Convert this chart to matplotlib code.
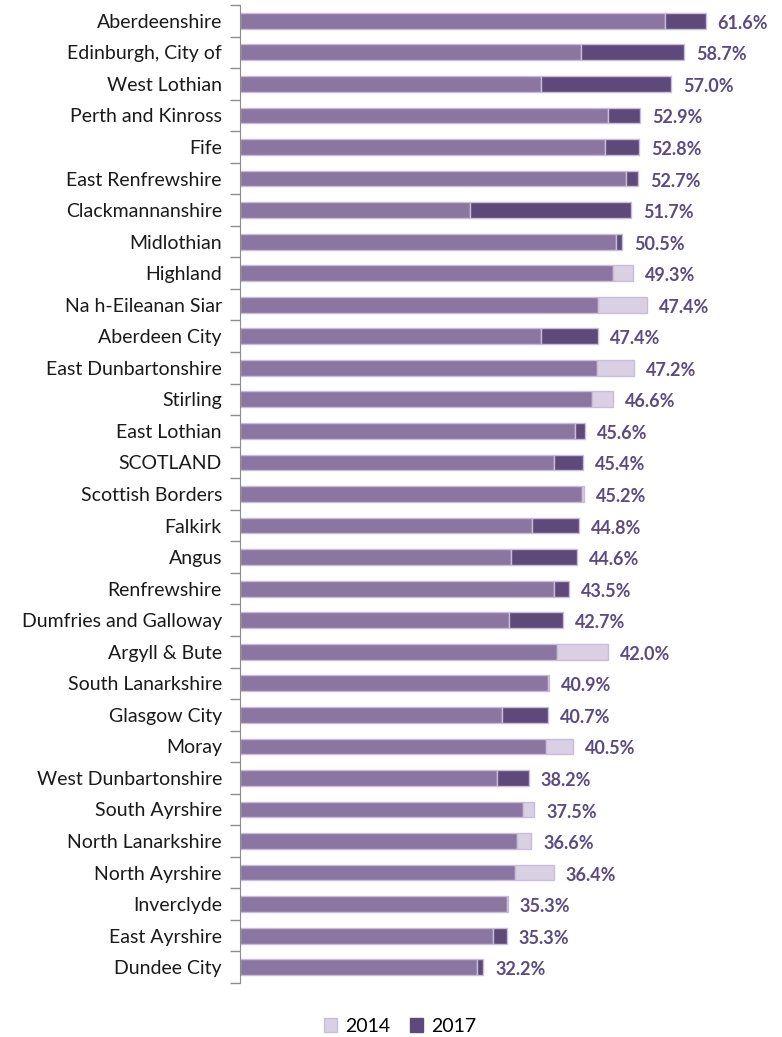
import matplotlib.pyplot as plt
import numpy as np
from matplotlib.patches import Patch

# council areas, top to bottom
areas = ['Aberdeenshire', 'Edinburgh, City of', 'West Lothian', 'Perth and Kinross', 'Fife',
         'East Renfrewshire', 'Clackmannanshire', 'Midlothian', 'Highland', 'Na h-Eileanan Siar',
         'Aberdeen City', 'East Dunbartonshire', 'Stirling', 'East Lothian', 'SCOTLAND',
         'Scottish Borders', 'Falkirk', 'Angus', 'Renfrewshire', 'Dumfries and Galloway',
         'Argyll & Bute', 'South Lanarkshire', 'Glasgow City', 'Moray', 'West Dunbartonshire',
         'South Ayrshire', 'North Lanarkshire', 'North Ayrshire', 'Inverclyde', 'East Ayrshire',
         'Dundee City']
pct_2014 = [56.3, 45.1, 39.8, 48.7, 48.3, 51.1, 30.5, 49.8, 52.0, 53.8,
            39.8, 52.1, 49.3, 44.3, 41.5, 45.5, 38.7, 35.8, 41.5, 35.6,
            48.7, 40.7, 34.7, 44.0, 34.0, 38.9, 38.5, 41.5, 35.4, 33.5,
            31.4]
pct_2017 = [61.6, 58.7, 57.0, 52.9, 52.8, 52.7, 51.7, 50.5, 49.3, 47.4,
            47.4, 47.2, 46.6, 45.6, 45.4, 45.2, 44.8, 44.6, 43.5, 42.7,
            42.0, 40.9, 40.7, 40.5, 38.2, 37.5, 36.6, 36.4, 35.3, 35.3,
            32.2]

MID = '#8a76a0'
DARK = '#5e4a7a'
LIGHT = '#d9d0e4'
EDGE = '#c8bcda'

a14 = np.array(pct_2014)
a17 = np.array(pct_2017)
y = np.arange(len(areas))

fig = plt.figure(figsize=(7.82, 10.37), dpi=100)
ax = fig.add_axes([240 / 782, 1 - 983 / 1037, 529 / 782, 978 / 1037])

base = np.minimum(a14, a17)
up = a17 > a14
ax.barh(y, base, height=0.5, color=MID, edgecolor=EDGE, linewidth=1)
ax.barh(y[up], (a17 - a14)[up], left=a14[up], height=0.5, color=DARK, edgecolor=EDGE, linewidth=1)
ax.barh(y[~up], (a14 - a17)[~up], left=a17[~up], height=0.5, color=LIGHT, edgecolor=EDGE, linewidth=1)

for yi, v14, v17 in zip(y, a14, a17):
    ax.text(max(v14, v17) + 1.6, yi + 0.08, f'{v17:.1f}%', va='center', ha='left',
            fontsize=13, fontweight='bold', color='#5c4a82', family='Lato')

ax.set_xlim(0, 70)
ax.set_ylim(len(areas) - 0.5, -0.5)
ax.set_yticks(y)
ax.set_yticklabels(areas, fontsize=14, family='Lato', color='#1a1a1a')
ax.set_yticks(np.arange(len(areas) + 1) - 0.5, minor=True)
ax.tick_params(axis='y', which='major', length=0, pad=13)
ax.tick_params(axis='y', which='minor', length=7, color='#8c8c8c', width=1)
ax.set_xticks([])
for s in ['top', 'right', 'bottom']:
    ax.spines[s].set_visible(False)
ax.spines['left'].set_color('#8c8c8c')

handles = [Patch(facecolor=LIGHT, edgecolor=EDGE, label='2014'),
           Patch(facecolor=DARK, edgecolor=DARK, label='2017')]
fig.legend(handles=handles, loc='center', bbox_to_anchor=(400 / 782, 1 - 1026 / 1037), ncol=2,
           frameon=False, prop={'family': 'Lato', 'size': 14}, handlelength=0.7, handleheight=0.7,
           columnspacing=1.0, handletextpad=0.4)

fig.savefig('out.png', dpi=100)
